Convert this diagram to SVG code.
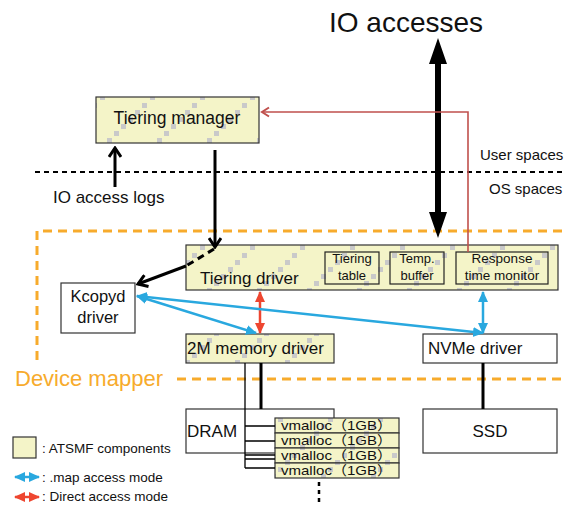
<svg xmlns="http://www.w3.org/2000/svg" width="565" height="506" viewBox="0 0 565 506">
<style>
text{font-family:"Liberation Sans","Noto Sans CJK JP",sans-serif;fill:#111}
.box{fill:#fff;stroke:#333;stroke-width:1.2}
.atsmf{fill:url(#pat);stroke:#333;stroke-width:1.2}
.sub{fill:none;stroke:#222;stroke-width:1.2}
.blk{stroke:#000;stroke-width:3;fill:none}
.thin{stroke:#000;stroke-width:1.3;fill:none}
.blue{stroke:#29a8df;stroke-width:2.5;fill:none}
.red{stroke:#ee4630;stroke-width:2.5;fill:none}
.orange{stroke:#f7ab2c;stroke-width:3;fill:none;stroke-dasharray:9 6}
.vm{font-size:13px}
</style>
<defs>
<pattern id="pat" patternUnits="userSpaceOnUse" width="50" height="50">
<rect width="50" height="50" fill="#f4f4c8"/>
<g fill="#c9c9c9">
<rect x="0" y="45" width="5" height="5"/><rect x="7" y="38" width="5" height="5"/><rect x="14" y="31" width="5" height="5"/><rect x="21" y="24" width="5" height="5"/><rect x="28" y="17" width="5" height="5"/><rect x="35" y="10" width="5" height="5"/><rect x="42" y="3" width="5" height="5"/>
</g>
</pattern>
<marker id="bh" markerUnits="userSpaceOnUse" markerWidth="12" markerHeight="12" refX="10" refY="6" orient="auto-start-reverse" viewBox="0 0 12 12"><path d="M0,1 L11,6 L0,11 Z" fill="#29a8df"/></marker>
<marker id="rh" markerUnits="userSpaceOnUse" markerWidth="12" markerHeight="12" refX="10" refY="6" orient="auto-start-reverse" viewBox="0 0 12 12"><path d="M0,1 L11,6 L0,11 Z" fill="#ee4630"/></marker>
<marker id="kh" markerUnits="userSpaceOnUse" markerWidth="14" markerHeight="14" refX="12" refY="7" orient="auto" viewBox="0 0 14 14"><path d="M3,1 L12,7 L3,13" fill="none" stroke="#000" stroke-width="3"/></marker>
<marker id="ch" markerUnits="userSpaceOnUse" markerWidth="12" markerHeight="12" refX="10" refY="6" orient="auto" viewBox="0 0 12 12"><path d="M3,1.5 L10,6 L3,10.5" fill="none" stroke="#c0504d" stroke-width="2"/></marker>
</defs>

<g id="regions">
<line x1="35" y1="172" x2="565" y2="172" stroke="#000" stroke-width="2" stroke-dasharray="5 4"/>
<text x="480" y="160" font-size="15">User spaces</text>
<text x="489" y="194" font-size="15">OS spaces</text>
<path class="orange" d="M37,360 V231 H565"/>
<line class="orange" x1="177" y1="379" x2="565" y2="379"/>
<text x="15" y="386" font-size="22" style="fill:#f7ab2c">Device mapper</text>
<text x="406" y="32" font-size="28" text-anchor="middle">IO accesses</text>
<text x="53" y="203" font-size="17">IO access logs</text>
</g>

<g id="tiering-manager">
<rect class="atsmf" x="96" y="97" width="163" height="46"/>
<text x="177" y="124" font-size="17.5" text-anchor="middle">Tiering manager</text>
</g>

<g id="tiering-driver">
<rect class="atsmf" x="186" y="245" width="372" height="45"/>
<text x="200" y="284" font-size="17">Tiering driver</text>
<rect class="sub" x="325" y="252" width="54" height="32"/>
<text x="352" y="263" font-size="13" text-anchor="middle">Tiering</text>
<text x="352" y="280" font-size="13" text-anchor="middle">table</text>
<rect class="sub" x="390" y="252" width="54" height="32"/>
<text x="417" y="263" font-size="13" text-anchor="middle">Temp.</text>
<text x="417" y="280" font-size="13" text-anchor="middle">buffer</text>
<rect class="sub" x="456" y="252" width="92" height="32"/>
<text x="502" y="263" font-size="13.5" text-anchor="middle">Response</text>
<text x="502" y="280" font-size="13.5" text-anchor="middle">time monitor</text>
</g>

<g id="kcopyd">
<rect class="box" x="61" y="283" width="74" height="50"/>
<text x="98" y="302" font-size="16.5" text-anchor="middle">Kcopyd</text>
<text x="98" y="323" font-size="16.5" text-anchor="middle">driver</text>
</g>

<g id="mem-driver">
<rect class="atsmf" x="186" y="334" width="148" height="29"/>
<text x="187" y="354" font-size="17">2M memory driver</text>
</g>

<g id="nvme-driver">
<rect class="box" x="423" y="334" width="134" height="29"/>
<text x="428" y="354" font-size="17">NVMe driver</text>
</g>

<g id="dram">
<rect class="box" x="186" y="409" width="148" height="44"/>
<text x="187" y="437" font-size="17">DRAM</text>
</g>

<g id="ssd">
<rect class="box" x="423" y="409" width="134" height="44"/>
<text x="490" y="437" font-size="17" text-anchor="middle">SSD</text>
</g>

<g id="vmalloc">
<rect class="atsmf" x="275" y="418" width="124" height="15"/>
<rect class="atsmf" x="275" y="433" width="124" height="15"/>
<rect class="atsmf" x="275" y="448" width="124" height="15"/>
<rect class="atsmf" x="275" y="463" width="124" height="15"/>
<text class="vm" x="281" y="430" textLength="111" lengthAdjust="spacingAndGlyphs">vmalloc（1GB）</text>
<text class="vm" x="281" y="445" textLength="111" lengthAdjust="spacingAndGlyphs">vmalloc（1GB）</text>
<text class="vm" x="281" y="460" textLength="111" lengthAdjust="spacingAndGlyphs">vmalloc（1GB）</text>
<text class="vm" x="281" y="475" textLength="111" lengthAdjust="spacingAndGlyphs">vmalloc（1GB）</text>
</g>

<g id="legend">
<rect class="atsmf" x="13" y="437" width="23" height="21"/>
<text x="42" y="453" font-size="13.5">: ATSMF components</text>
<line class="blue" x1="15" y1="477" x2="39" y2="477" marker-start="url(#bh)" marker-end="url(#bh)" stroke-width="2"/>
<text x="42" y="482" font-size="13.5">: .map access mode</text>
<line class="red" x1="15" y1="497" x2="39" y2="497" marker-start="url(#rh)" marker-end="url(#rh)" stroke-width="2"/>
<text x="42" y="501" font-size="13.5">: Direct access mode</text>
</g>

<g id="connectors">
<rect x="435" y="60" width="6" height="156" fill="#000"/>
<path d="M438,38 L447,64 L429,64 Z M438,238 L447,212 L429,212 Z" fill="#000"/>
<path d="M468,252 V112 H262" fill="none" stroke="#c0504d" stroke-width="1.6" marker-end="url(#ch)"/>
<line class="blk" x1="115" y1="187" x2="115" y2="148" marker-end="url(#kh)"/>
<line class="blk" x1="215" y1="150" x2="215" y2="247" marker-end="url(#kh)"/>
<line x1="214" y1="249" x2="186" y2="266" stroke="#000" stroke-width="3" stroke-dasharray="7 5"/>
<line class="blk" x1="186" y1="266" x2="138" y2="284" marker-end="url(#kh)"/>
<line class="red" x1="260" y1="292" x2="260" y2="333" marker-start="url(#rh)" marker-end="url(#rh)"/>
<line class="blue" x1="483" y1="292" x2="483" y2="333" marker-start="url(#bh)" marker-end="url(#bh)"/>
<line class="blue" x1="137" y1="296" x2="256" y2="333" marker-start="url(#bh)" marker-end="url(#bh)"/>
<line class="blue" x1="137" y1="296" x2="483" y2="333" marker-start="url(#bh)" marker-end="url(#bh)"/>
<line class="blk" x1="261" y1="363" x2="261" y2="409"/>
<path class="thin" d="M245,363 V468 M245,426 H275 M245,441 H275 M245,455 H275 M245,459 H275 M245,468 H275"/>
<line x1="319" y1="482" x2="319" y2="502" stroke="#000" stroke-width="2.5" stroke-dasharray="4 4"/>
<line class="blk" x1="483" y1="363" x2="483" y2="409"/>
</g>
</svg>
